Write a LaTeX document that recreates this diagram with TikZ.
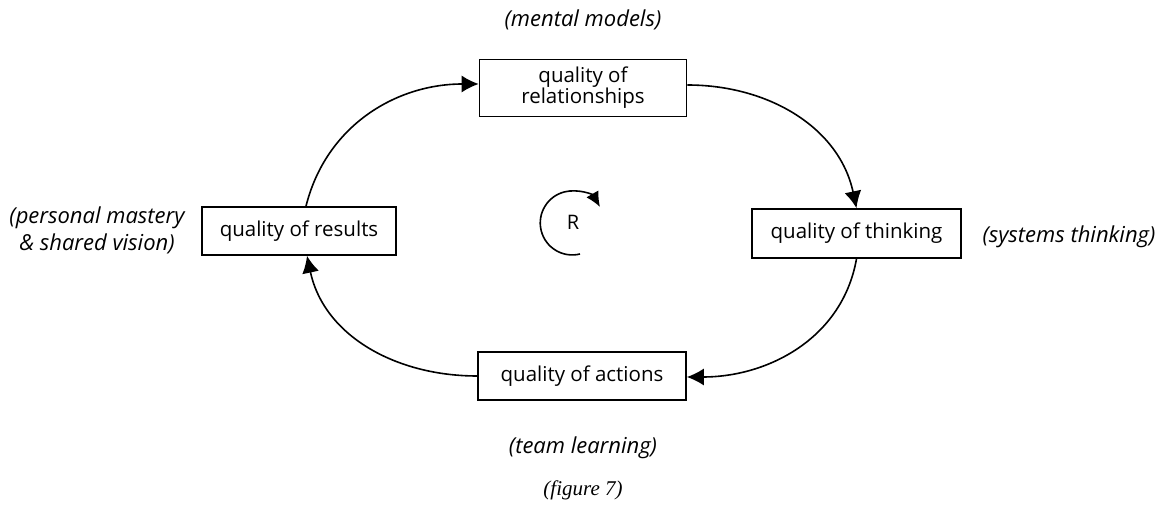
\documentclass[tikz,border=0pt]{standalone}
\usepackage{fontspec}
\setmainfont{Open Sans}
\newfontfamily\capfont{Liberation Serif}
\usetikzlibrary{arrows.meta}
\begin{document}
\begin{tikzpicture}[x=1pt,y=1pt,
  qbox/.style={draw, line width=1.6pt, minimum width=#1, inner sep=0pt, align=center, font=\fontsize{20.5}{24}\selectfont},
  qbox/.default=200pt,
  note/.style={align=center, font=\itshape\fontsize{22}{27}\selectfont},
  link/.style={line width=1.6pt, -{Latex[length=17pt,width=17pt]}}
]
\useasboundingbox (0,0) rectangle (1171,508);
\node[qbox=207pt, minimum height=57pt] (rel) at (583,420) {quality of\\[-3pt]relationships};
\node[qbox=209pt, minimum height=49pt] (thk) at (856.5,274.5) {quality of thinking};
\node[qbox=194pt, minimum height=48pt] (res) at (299,277) {quality of results};
\node[qbox=208pt, minimum height=48pt] (act) at (582,132) {quality of actions};

\node[note] (mm) at (583,488) {(mental models)};
\node[note] (st) at (1069,271) {(systems thinking)};
\node[note] (pm) at (97,278) {(personal mastery\\\& shared vision)};
\node[note] (tl) at (583,60) {(team learning)};
\node[font=\capfont\itshape\fontsize{21}{24}\selectfont] (fig) at (583,18) {(figure 7)};

\draw[link] ([xshift=7pt]res.north) to[out=76,in=180] ([yshift=4pt]rel.west);
\draw[link] ([yshift=3pt]rel.east) to[out=0,in=102] (thk.north);
\draw[link] (thk.south) to[out=-100,in=0] ([yshift=-1pt]act.east);
\draw[link] (act.west) to[out=180,in=-78] ([xshift=8pt]res.south);

\node[font=\fontsize{20}{22}\selectfont] (R) at (573,286) {R};
\draw[line width=1.6pt, -{Latex[length=15pt,width=14pt]}] (580,254) arc[start angle=284, end angle=30, radius=32];
\end{tikzpicture}
\end{document}
